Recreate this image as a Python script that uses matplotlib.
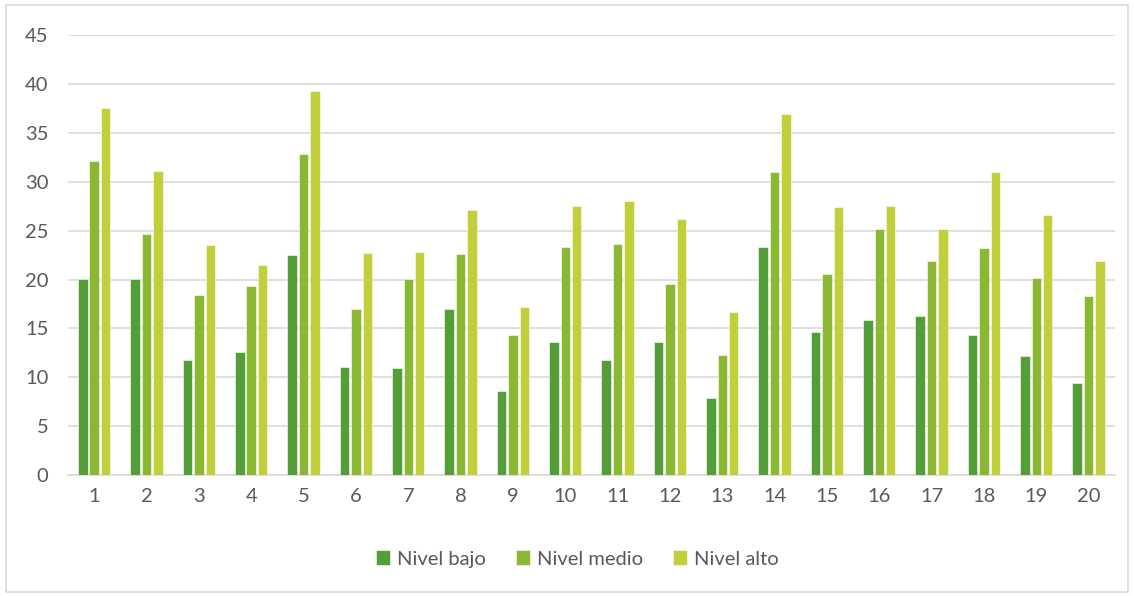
import matplotlib
matplotlib.use("Agg")
import matplotlib.pyplot as plt
import numpy as np
from matplotlib.patches import Rectangle

categories = [str(i) for i in range(1, 21)]
nivel_bajo = [20.1, 20.1, 11.8, 12.6, 22.5, 11.1, 10.9, 17.0, 8.6, 13.6,
              11.8, 13.6, 7.9, 23.3, 14.6, 15.9, 16.3, 14.3, 12.2, 9.4]
nivel_medio = [32.1, 24.7, 18.4, 19.3, 32.8, 17.0, 20.1, 22.6, 14.3, 23.3,
               23.6, 19.5, 12.3, 31.0, 20.6, 25.2, 21.9, 23.2, 20.2, 18.3]
nivel_alto = [37.5, 31.1, 23.5, 21.5, 39.25, 22.7, 22.8, 27.1, 17.2, 27.5,
              28.0, 26.2, 16.7, 36.9, 27.4, 27.5, 25.2, 31.0, 26.6, 21.9]
series_names = ["Nivel bajo", "Nivel medio", "Nivel alto"]
colors = ["#549E39", "#8AB833", "#C0CF3A"]
yticks = [0, 5, 10, 15, 20, 25, 30, 35, 40, 45]

plt.rcParams['font.family'] = ['Lato', 'DejaVu Sans']
fig = plt.figure(figsize=(11.34, 5.96), dpi=100)
ax = fig.add_axes([0.060, 0.203, 0.923, 0.738])

x = np.arange(len(categories))
pitch = 0.217
width = 0.18
for i, (vals, name, c) in enumerate(zip([nivel_bajo, nivel_medio, nivel_alto], series_names, colors)):
    ax.bar(x + (i - 1) * pitch, vals, width=width, color=c, label=name,
           edgecolor="white", linewidth=0.4, zorder=3)

ax.set_xlim(-0.5, len(categories) - 0.5)
ax.set_ylim(0, 45)
ax.set_yticks(yticks)
ax.set_xticks(x)
ax.set_xticklabels(categories)
ax.grid(axis="y", color="#D9D9D9", linewidth=1.2, zorder=0)
ax.tick_params(axis="both", length=0, labelsize=14.5, colors="#595959")
ax.tick_params(axis="x", pad=9)
ax.tick_params(axis="y", pad=14)
for s in ["top", "right", "left"]:
    ax.spines[s].set_visible(False)
ax.spines["bottom"].set_color("#D9D9D9")
ax.spines["bottom"].set_linewidth(1.2)

leg = fig.legend(loc="center", bbox_to_anchor=(0.509, 0.062), ncol=3, frameon=False,
                 fontsize=14.5, handlelength=0.7, handleheight=0.7, handletextpad=0.35,
                 columnspacing=1.5)
for t in leg.get_texts():
    t.set_color("#595959")

fig.patches.append(Rectangle((0.005, 0.007), 0.990, 0.985, transform=fig.transFigure,
                             fill=False, edgecolor="#D9D9D9", linewidth=1.2))

fig.savefig("out.png", dpi=100, facecolor="white")
